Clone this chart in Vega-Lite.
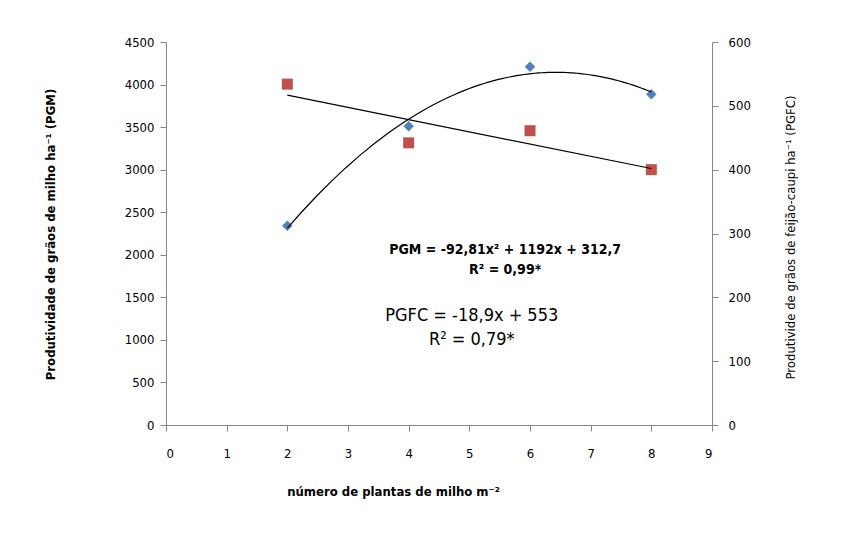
{
  "$schema": "https://vega.github.io/schema/vega-lite/v6.json",
  "width": 546,
  "height": 383,
  "autosize": {"type": "none"},
  "padding": {"left": 166, "top": 42, "right": 134, "bottom": 133},
  "background": "white",
  "config": {
    "view": {"stroke": null},
    "font": "Liberation Sans Narrow, DejaVu Sans Condensed, sans-serif",
    "axis": {
      "grid": false,
      "domainColor": "#868686",
      "tickColor": "#868686",
      "labelColor": "#000000",
      "titleColor": "#000000",
      "labelFont": "Liberation Sans Narrow, DejaVu Sans Condensed, sans-serif",
      "titleFont": "Liberation Sans Narrow, DejaVu Sans Condensed, sans-serif",
      "labelFontSize": 13,
      "titleFontSize": 13,
      "tickSize": 6
    }
  },
  "datasets": {
    "pgm": [
      {"plantas": 2, "pgm": 2340},
      {"plantas": 4, "pgm": 3510},
      {"plantas": 6, "pgm": 4210},
      {"plantas": 8, "pgm": 3885}
    ],
    "pgfc": [
      {"plantas": 2, "pgfc": 534},
      {"plantas": 4, "pgfc": 442},
      {"plantas": 6, "pgfc": 461},
      {"plantas": 8, "pgfc": 400}
    ],
    "notesPgm": [
      {"px": 5.59, "py": 2060, "label": "PGM = -92,81x² + 1192x + 312,7"},
      {"px": 5.59, "py": 1825, "label": "R² = 0,99*"}
    ],
    "notesPgfc": [
      {"px": 5.04, "py": 1285, "label": "PGFC = -18,9x + 553"},
      {"px": 5.04, "py": 1000, "label": "R² = 0,79*"}
    ]
  },
  "layer": [
    {
      "layer": [
        {
          "data": {"name": "pgm"},
          "mark": {"type": "point", "shape": "diamond", "filled": true, "size": 110, "color": "#4F81BD", "opacity": 1},
          "encoding": {
            "x": {
              "field": "plantas", "type": "quantitative",
              "scale": {"domain": [0, 9], "nice": false},
              "axis": {
                "values": [0, 1, 2, 3, 4, 5, 6, 7, 8, 9],
                "format": "d",
                "title": "número de plantas de milho m⁻²",
                "titleFontWeight": "bold",
                "labelPadding": 16,
                "titlePadding": 25,
                "titleX": 227
              }
            },
            "y": {
              "field": "pgm", "type": "quantitative",
              "scale": {"domain": [0, 4500], "nice": false},
              "axis": {
                "orient": "left",
                "values": [0, 500, 1000, 1500, 2000, 2500, 3000, 3500, 4000, 4500],
                "format": "d",
                "labelPadding": 6,
                "title": "Produtividade de grãos de milho ha⁻¹ (PGM)",
                "titleFontWeight": "bold",
                "titleAngle": 270,
                "titleX": -116,
                "titleY": 192,
                "titleAlign": "center",
                "titleBaseline": "middle"
              }
            }
          }
        },
        {
          "data": {"name": "pgm"},
          "transform": [
            {"regression": "pgm", "on": "plantas", "method": "poly", "order": 2}
          ],
          "mark": {"type": "line", "color": "#000000", "strokeWidth": 1.2},
          "encoding": {
            "x": {"field": "plantas", "type": "quantitative"},
            "y": {"field": "pgm", "type": "quantitative"}
          }
        },
        {
          "data": {"name": "notesPgm"},
          "mark": {"type": "text", "color": "#000000", "align": "center", "baseline": "middle", "fontSize": 14, "fontWeight": "bold", "font": "Liberation Sans Narrow, DejaVu Sans Condensed, sans-serif"},
          "encoding": {
            "x": {"field": "px", "type": "quantitative"},
            "y": {"field": "py", "type": "quantitative"},
            "text": {"field": "label"}
          }
        },
        {
          "data": {"name": "notesPgfc"},
          "mark": {"type": "text", "color": "#000000", "align": "center", "baseline": "middle", "fontSize": 18, "font": "Liberation Sans Narrow, DejaVu Sans Condensed, sans-serif"},
          "encoding": {
            "x": {"field": "px", "type": "quantitative"},
            "y": {"field": "py", "type": "quantitative"},
            "text": {"field": "label"}
          }
        }
      ]
    },
    {
      "layer": [
        {
          "data": {"name": "pgfc"},
          "mark": {"type": "square", "filled": true, "size": 121, "color": "#C0504D", "opacity": 1},
          "encoding": {
            "x": {"field": "plantas", "type": "quantitative"},
            "y": {
              "field": "pgfc", "type": "quantitative",
              "scale": {"domain": [0, 600], "nice": false},
              "axis": {
                "orient": "right",
                "values": [0, 100, 200, 300, 400, 500, 600],
                "format": "d",
                "labelPadding": 10,
                "title": "Produtivide de grãos de feijão-caupi ha⁻¹ (PGFC)",
                "titleFontWeight": "normal",
                "titleAngle": 270,
                "titleX": 78,
                "titleY": 195,
                "titleAlign": "center",
                "titleBaseline": "middle"
              }
            }
          }
        },
        {
          "data": {"name": "pgfc"},
          "transform": [
            {"regression": "pgfc", "on": "plantas", "method": "linear"}
          ],
          "mark": {"type": "line", "color": "#000000", "strokeWidth": 1.2},
          "encoding": {
            "x": {"field": "plantas", "type": "quantitative"},
            "y": {"field": "pgfc", "type": "quantitative"}
          }
        }
      ]
    }
  ],
  "resolve": {"scale": {"y": "independent"}}
}
